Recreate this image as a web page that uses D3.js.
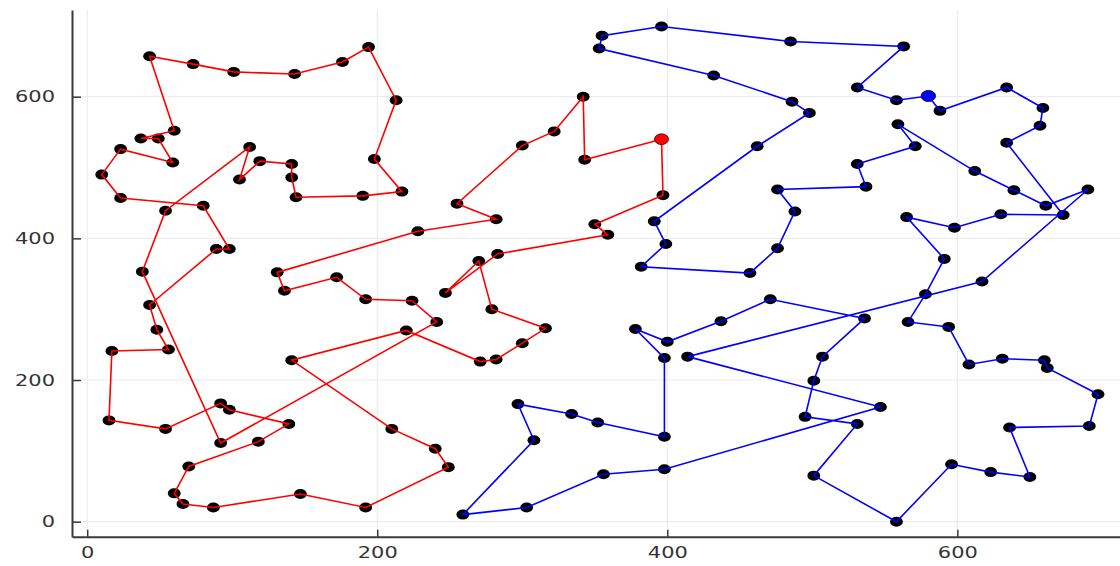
<!DOCTYPE html>
<html>
<head>
<meta charset="utf-8">
<script src="https://cdn.jsdelivr.net/npm/d3@7/dist/d3.min.js"></script>
<style>
  body { margin: 0; background: #fff; }
  svg { display: block; }
</style>
</head>
<body>
<div id="chart"></div>
<script>

// ─── DATA ───────────────────────────────────────────────────────────────────────
// red tour (first point = red start marker), closed loop
const redX = [396, 343, 342, 322, 300, 255, 282, 228, 131, 136, 172, 192, 224, 241, 92,
  38, 54, 112, 105, 119, 141, 141, 144, 190, 217, 198, 213, 194, 176, 143, 101, 73, 43,
  60, 37, 49, 59, 23, 10, 23, 80, 98, 89, 43, 48, 56, 17, 15, 54, 92, 98, 139, 118, 70,
  60, 66, 87, 147, 192, 249, 240, 210, 141, 220, 271, 282, 300, 316, 279, 270, 247, 283,
  359, 350, 397]
const redY = [540, 511, 600, 551, 531, 449, 427, 410, 352, 326, 345, 314, 312, 282, 111,
  353, 439, 529, 483, 509, 505, 486, 458, 460, 466, 512, 595, 670, 649, 632, 635, 646, 657,
  552, 541, 541, 507, 526, 490, 457, 446, 385, 385, 306, 271, 243, 241, 143, 131, 167, 158,
  138, 113, 78, 40, 25, 20, 39, 20, 77, 103, 131, 228, 270, 226, 229, 252, 273, 300, 368,
  323, 378, 405, 420, 461]

// blue tour (first point = blue start marker), closed loop
const blueX = [580, 588, 634, 659, 657, 634, 673, 630, 598, 565, 591, 578, 566, 594, 608,
  631, 660, 662, 697, 691, 636, 650, 623, 596, 558, 501, 531, 495, 501, 507, 536, 471, 437,
  400, 378, 398, 398, 352, 334, 297, 308, 259, 303, 356, 398, 547, 414, 617, 690, 661, 639,
  612, 559, 571, 531, 537, 476, 488, 476, 457, 382, 399, 391, 462, 498, 486, 432, 353, 355,
  396, 485, 563, 531, 558]
const blueY = [601, 580, 613, 584, 559, 535, 433, 434, 415, 430, 371, 321, 282, 275, 222,
  230, 228, 217, 180, 135, 133, 63, 70, 81, 0, 65, 138, 148, 199, 233, 287, 314, 283,
  254, 272, 231, 120, 140, 152, 166, 115, 10, 20, 67, 74, 162, 233, 339, 469, 446, 468,
  495, 561, 530, 505, 473, 469, 438, 386, 351, 360, 392, 424, 530, 577, 593, 630, 668, 686,
  699, 678, 671, 613, 595]

const xTicks = [0, 200, 400, 600]
const yTicks = [0, 200, 400, 600]

// ─── CANVAS ─────────────────────────────────────────────────────────────────────
const W = 1120, H = 566
const plotLeft = 72, plotTop = 10, plotBottom = 536.7
const stretch = 1.27   // the picture is wider than tall, text and dots follow it

const svg = d3.select('#chart')
  .append('svg')
  .attr('width', W)
  .attr('height', H)
  .style('background', '#fff')

// ─── SCALES ─────────────────────────────────────────────────────────────────────
const xScale = d3.scaleLinear()
  .domain([-10.5, 719])
  .range([plotLeft, plotLeft + 729.5 * 1.4502])

const yScale = d3.scaleLinear()
  .domain([-21.2, 722.4])
  .range([plotBottom, plotTop])

// ─── GRID ───────────────────────────────────────────────────────────────────────
svg.append('g')
  .selectAll('line')
  .data(xTicks)
  .enter().append('line')
  .attr('x1', d => xScale(d)).attr('x2', d => xScale(d))
  .attr('y1', plotTop).attr('y2', plotBottom)
  .attr('stroke', '#ececec').attr('stroke-width', 1.2)

svg.append('g')
  .selectAll('line')
  .data(yTicks)
  .enter().append('line')
  .attr('x1', plotLeft).attr('x2', W)
  .attr('y1', d => yScale(d)).attr('y2', d => yScale(d))
  .attr('stroke', '#ececec').attr('stroke-width', 1.2)

// ─── AXES ───────────────────────────────────────────────────────────────────────
const xAxis = svg.append('g')
  .attr('transform', `translate(0, ${plotBottom})`)
  .call(d3.axisBottom(xScale).tickValues(xTicks).tickSizeInner(-7).tickSizeOuter(0).tickPadding(10))

const yAxis = svg.append('g')
  .attr('transform', `translate(${plotLeft}, 0)`)
  .call(d3.axisLeft(yScale).tickValues(yTicks).tickSizeInner(-9).tickSizeOuter(0).tickPadding(13))

;[xAxis, yAxis].forEach(ax => {
  ax.select('.domain').attr('stroke', '#3a3a3a').attr('stroke-width', 2)
  ax.selectAll('.tick line').attr('stroke', '#3a3a3a').attr('stroke-width', 1.5)
  ax.selectAll('.tick text')
    .attr('fill', '#333')
    .style('font-family', '"DejaVu Sans", sans-serif')
    .style('font-size', '16.5px')
    .attr('transform', `scale(${stretch},1)`)
})
// keep the y labels' right edge at the same spot after the stretch
yAxis.selectAll('.tick text').attr('x', -17 / stretch)

// ─── POINTS ─────────────────────────────────────────────────────────────────────
const redPts = redX.map((x, i) => [x, redY[i]])
const bluePts = blueX.map((x, i) => [x, blueY[i]])

svg.append('g')
  .selectAll('ellipse')
  .data(redPts.concat(bluePts))
  .enter().append('ellipse')
  .attr('cx', d => xScale(d[0]))
  .attr('cy', d => yScale(d[1]))
  .attr('rx', 6.4).attr('ry', 5)
  .attr('fill', '#000')

// ─── TOURS ──────────────────────────────────────────────────────────────────────
const line = d3.line()
  .x(d => xScale(d[0]))
  .y(d => yScale(d[1]))
  .curve(d3.curveLinearClosed)

svg.append('path')
  .attr('d', line(redPts))
  .attr('fill', 'none')
  .attr('stroke', '#ff0000')
  .attr('stroke-width', 1.6)

svg.append('path')
  .attr('d', line(bluePts))
  .attr('fill', 'none')
  .attr('stroke', '#0000ff')
  .attr('stroke-width', 1.6)

// ─── START MARKERS ──────────────────────────────────────────────────────────────
svg.append('ellipse')
  .attr('cx', xScale(redX[0])).attr('cy', yScale(redY[0]))
  .attr('rx', 7).attr('ry', 5.4)
  .attr('fill', '#ff0000').attr('stroke', '#3a0000').attr('stroke-width', 0.8)

svg.append('ellipse')
  .attr('cx', xScale(blueX[0])).attr('cy', yScale(blueY[0]))
  .attr('rx', 7.2).attr('ry', 5.6)
  .attr('fill', '#0000ff').attr('stroke', '#00003a').attr('stroke-width', 0.8)

</script>
</body>
</html>
